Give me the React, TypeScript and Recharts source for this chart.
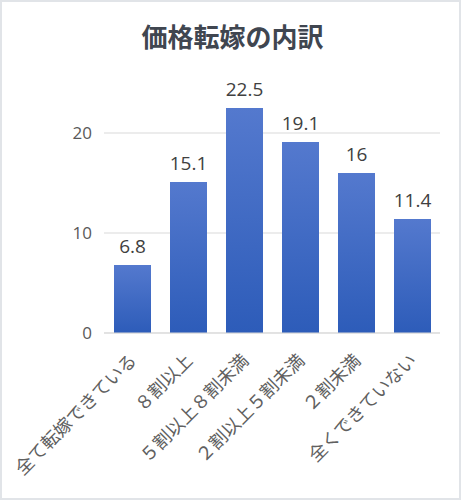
import React from "react";
import { BarChart, Bar, XAxis, YAxis, CartesianGrid, LabelList } from "recharts";

const categories = ["全て転嫁できている", "８割以上", "５割以上８割未満", "２割以上５割未満", "２割未満", "全くできていない"];
const values = [6.8, 15.1, 22.5, 19.1, 16, 11.4];
const yTicks = [0, 10, 20];

const data = categories.map((name, i) => ({ name, value: values[i] }));

const FONT = "'Noto Sans CJK JP', 'Noto Sans', sans-serif";
const NUMFONT = "'Open Sans', 'Noto Sans', sans-serif";

const XTick = (props: any) => {
  const { x, y, payload } = props;
  const tx = x;
  const ty = y + 15;
  return (
    <text
      x={tx}
      y={ty}
      transform={`rotate(-45, ${tx}, ${ty})`}
      textAnchor="end"
      dominantBaseline="central"
      fontSize={18}
      fill="#606060"
      fontFamily={FONT}
    >
      {payload.value}
    </text>
  );
};

export default function App() {
  return (
    <div
      style={{
        position: "absolute",
        left: 0,
        top: 0,
        width: 461,
        height: 500,
        background: "#fff",
        boxSizing: "border-box",
        border: "2px solid #E1E4E8",
        fontFamily: FONT,
      }}
    >
      <div
        style={{
          position: "absolute",
          left: 0,
          top: 15,
          width: 461,
          textAlign: "center",
          fontSize: 26,
          fontWeight: "bold",
          color: "#404650",
          fontFamily: FONT,
          lineHeight: "38px",
        }}
      >
        価格転嫁の内訳
      </div>
      <div style={{ position: "absolute", left: -2, top: -2 }}>
        <BarChart width={461} height={500} data={data} margin={{ top: 83, right: 21, bottom: 0, left: 0 }}>
          <defs>
            <linearGradient id="barGrad" x1="0" y1="0" x2="0" y2="1">
              <stop offset="0%" stopColor="#5479CE" />
              <stop offset="100%" stopColor="#2D5CB9" />
            </linearGradient>
          </defs>
          <CartesianGrid vertical={false} stroke="#D9D9D9" horizontalValues={yTicks} />
          <XAxis
            dataKey="name"
            interval={0}
            height={167}
            tickLine={false}
            axisLine={{ stroke: "#D9D9D9" }}
            tick={<XTick />}
          />
          <YAxis
            width={104}
            domain={[0, 25]}
            ticks={yTicks}
            tickLine={false}
            axisLine={false}
            tickMargin={6}
            tick={{ fontSize: 17, fill: "#595959", fontFamily: NUMFONT }}
          />
          <Bar dataKey="value" fill="url(#barGrad)" barSize={37} isAnimationActive={false}>
            <LabelList
              dataKey="value"
              position="top"
              offset={12}
              fontSize={19}
              fill="#404040"
              fontFamily={NUMFONT}
            />
          </Bar>
        </BarChart>
      </div>
    </div>
  );
}
